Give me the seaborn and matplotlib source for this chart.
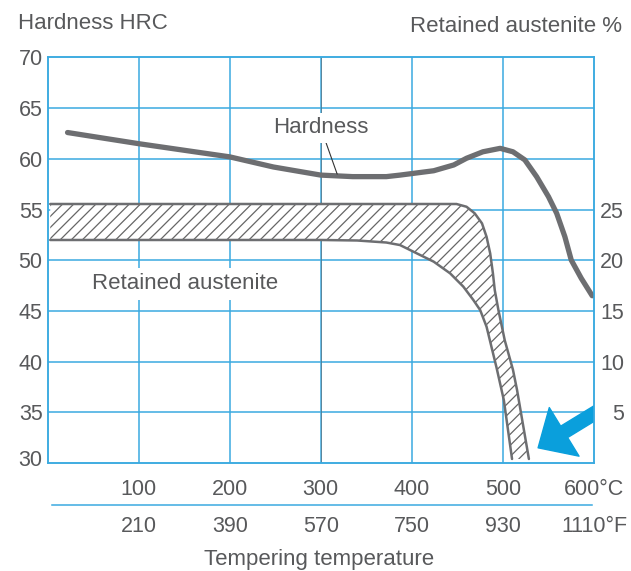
import matplotlib
matplotlib.use("Agg")
import matplotlib.pyplot as plt
import matplotlib.transforms as mtransforms
import seaborn as sns

# Hardness curve (tempering temperature in °C, HRC)
hardness_temp = [22, 100, 200, 248, 300, 335, 372, 387, 424, 446, 460, 478, 497,
                 511, 524, 537, 550, 559, 568, 575, 586, 598]
hardness_hrc = [62.6, 61.5, 60.2, 59.2, 58.4, 58.25, 58.25, 58.4, 58.83, 59.4, 60.06, 60.7, 61.04,
                60.7, 59.9, 58.24, 56.27, 54.63, 52.32, 50.02, 48.22, 46.5]

# Retained austenite band (°C, %)
ra_upper_temp = [3, 150, 300, 449, 460, 469, 477, 482, 486, 489, 491, 495, 502, 511, 515.5, 528.5]
ra_upper_pct = [25.55, 25.55, 25.55, 25.55, 25.28, 24.63, 23.64, 22.32, 20.68, 18.71, 17.07, 15.1,
                12.1, 9.2, 7.2, 0.4]
ra_lower_temp = [3, 150, 300, 340, 372, 387, 405, 424, 442, 456.5, 467.5, 475, 482, 493, 501, 510]
ra_lower_pct = [22.0, 22.0, 22.0, 21.95, 21.75, 21.5, 20.7, 19.86, 18.71, 17.4, 16.08, 15.09,
                13.45, 9.4, 6.2, 0.4]

celsius_ticks = [100, 200, 300, 400, 500, 600]
celsius_labels = ["100", "200", "300", "400", "500", "600°C"]
fahrenheit_labels = ["210", "390", "570", "750", "930", "1110°F"]
hrc_ticks = [30, 35, 40, 45, 50, 55, 60, 65, 70]
ra_ticks = [5, 10, 15, 20, 25]

GRID = "#3aaae0"
INK = "#58595b"
CURVE = "#6d6e71"
HATCH = "#666666"
ARROW = "#0a9fdc"

sns.set_theme(style="white")
plt.rcParams["font.family"] = ["Liberation Sans", "DejaVu Sans"]
plt.rcParams["hatch.linewidth"] = 0.9
plt.rcParams["hatch.color"] = HATCH

fig = plt.figure(figsize=(6.31, 5.71), dpi=100)
ax = fig.add_axes([0.0753, 0.1891, 0.8661, 0.7102])
ax.set_xlim(0, 600)
ax.set_ylim(30, 70)
ax2 = ax.twinx()
ax2.set_ylim(0, 40)

# grid and frame
for x in celsius_ticks[:-1]:
    ax.axvline(x, color=GRID, lw=1.1, zorder=0)
for y in hrc_ticks[1:-1]:
    ax.axhline(y, color=GRID, lw=1.1, zorder=0)
ax.axvline(300, color="#56707e", lw=0.5, zorder=0.5)
for a in (ax, ax2):
    for sp in a.spines.values():
        sp.set_color(GRID)
        sp.set_linewidth(1.1)

# hardness curve
sns.lineplot(x=hardness_temp, y=hardness_hrc, ax=ax, color=CURVE, lw=3.8,
             sort=False, estimator=None, legend=False, zorder=3)
ax.annotate("Hardness", xy=(318, 58.5), xytext=(300, 63.05), fontsize=16, color=INK,
            ha="center", va="center",
            bbox=dict(boxstyle="square,pad=0.2", fc="white", ec="none"),
            arrowprops=dict(arrowstyle="-", color="#333333", lw=0.8, shrinkA=0, shrinkB=0),
            zorder=4)

# retained austenite band
band_x = ra_upper_temp + ra_lower_temp[::-1]
band_y = ra_upper_pct + ra_lower_pct[::-1]
ax2.fill(band_x, band_y, facecolor="white", edgecolor=HATCH, hatch="///", lw=0, zorder=2)
sns.lineplot(x=ra_upper_temp, y=ra_upper_pct, ax=ax2, color=CURVE, lw=1.8,
             sort=False, estimator=None, legend=False, zorder=3)
sns.lineplot(x=ra_lower_temp, y=ra_lower_pct, ax=ax2, color=CURVE, lw=1.8,
             sort=False, estimator=None, legend=False, zorder=3)
ax2.text(151, 17.7, "Retained austenite", fontsize=16, color=INK, ha="center", va="center",
         bbox=dict(boxstyle="square,pad=0.25", fc="white", ec="none"), zorder=1)

# blue arrow
arr = ax.annotate("", xy=(538.6, 31.5), xytext=(615, 35.7),
                  arrowprops=dict(width=9.6, headwidth=41, headlength=22,
                                  color=ARROW, shrink=0))
arr.arrow_patch.set_clip_box(ax.bbox)
arr.arrow_patch.set_clip_on(True)

# axes ticks
ax.set_yticks(hrc_ticks, [str(t) for t in hrc_ticks])
ax.tick_params(axis="y", length=0, pad=3.6, labelsize=15.5, labelcolor=INK)
lbl30 = ax.get_yticklabels()[0]
lbl30.set_transform(lbl30.get_transform() +
                    mtransforms.ScaledTranslation(0, 5 / 100, fig.dpi_scale_trans))
ax2.set_yticks(ra_ticks, [str(t) for t in ra_ticks], ha="right")
ax2.tick_params(axis="y", length=0, pad=21.6, labelsize=15.5, labelcolor=INK)
ax.set_xticks(celsius_ticks, celsius_labels)
ax.tick_params(axis="x", length=0, pad=11.5, labelsize=15.5, labelcolor=INK)

sec = ax.secondary_xaxis(-0.1036)
sec.set_xticks(celsius_ticks, fahrenheit_labels)
sec.tick_params(axis="x", length=0, pad=8, labelsize=15.5, labelcolor=INK)
sec.spines["bottom"].set_color(GRID)
sec.spines["bottom"].set_linewidth(1.1)
sec.spines["bottom"].set_bounds(5, 598)

fig.text(18 / 631, 1 - 29.3 / 571, "Hardness HRC", fontsize=16, color=INK, ha="left", va="baseline")
fig.text(622 / 631, 1 - 32 / 571, "Retained austenite %", fontsize=16, color=INK, ha="right", va="baseline")
fig.text(319.5 / 631, 1 - 565 / 571, "Tempering temperature", fontsize=16, color=INK,
         ha="center", va="baseline")

fig.savefig("out.png", dpi=100)
